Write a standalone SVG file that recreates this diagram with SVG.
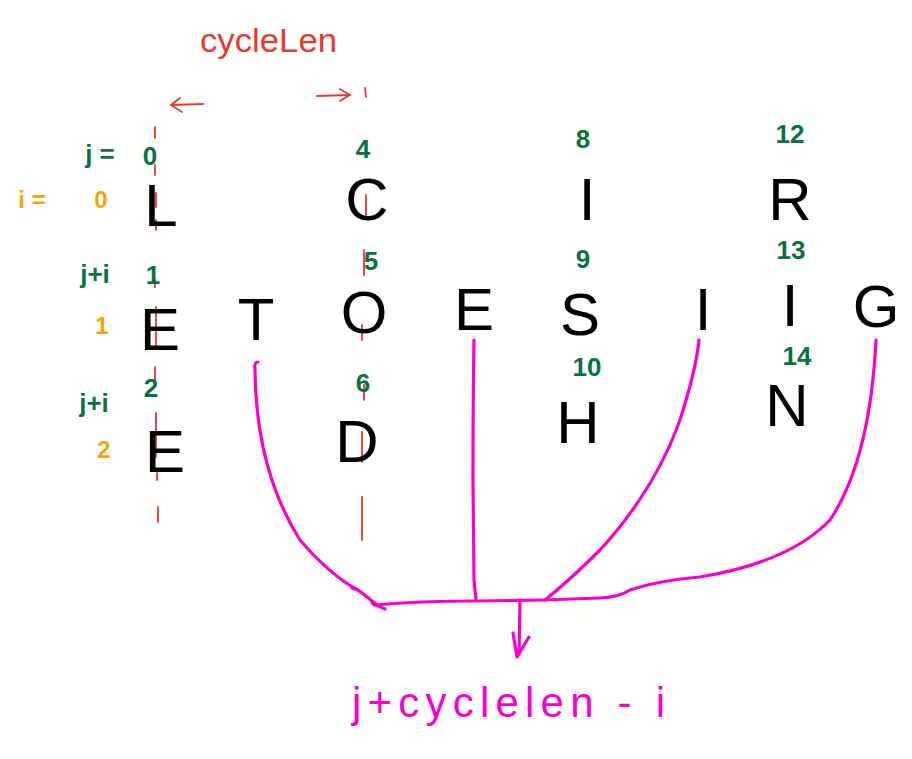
<svg xmlns="http://www.w3.org/2000/svg" width="912" height="759" viewBox="0 0 912 759">
<style>
.big{font-family:"Liberation Sans",Arial,sans-serif;font-size:60px;fill:#000;text-anchor:middle}
.gn{font-family:"Liberation Sans",Arial,sans-serif;font-size:26px;font-weight:bold;fill:#08733c;text-anchor:middle}
.or{font-family:"Liberation Sans",Arial,sans-serif;font-size:24px;font-weight:bold;fill:#f6a20a;text-anchor:middle}
.red{stroke:#e8392a;stroke-width:1.8;fill:none;stroke-linecap:round}
.pk{stroke:#f700d0;stroke-width:3.2;fill:none;stroke-linecap:round;stroke-linejoin:round}
.pkt{font-family:"Liberation Sans",Arial,sans-serif;font-size:42px;fill:#f700d0}
.rt{font-family:"Liberation Sans",Arial,sans-serif;font-size:34px;fill:#e8392a}
</style>
<rect width="912" height="759" fill="#fff"/>
<g id="guides">
<text class="rt" x="200" y="52" textLength="137" lengthAdjust="spacingAndGlyphs">cycleLen</text>
<path class="red" d="M203 104 L172 105 M180 98 L171 105 L182 112"/>
<path class="red" d="M317 96 L349 95 M340 89 L350 95 L340 101"/>
<path class="red" d="M365 88 L366 97"/>
<path class="red" d="M155 127 V138 M155 165 V175 M156 193 V207 M156 220 V230 M155 280 V287 M156 307 V348 M155 367 V385 M156 413 V457 M157 473 V480 M158 507 V522"/>
<path class="red" d="M366 195 V215 M364 250 V275 M362 325 V340 M364 385 V400 M362 432 V462 M362 497 V540"/>
</g>
<g id="labels">
<text class="gn" x="100" y="163" font-size="38" font-weight="normal">j =</text>
<text class="or" x="32" y="208" font-weight="normal">i =</text>
<text class="gn" x="95" y="283" font-size="34" font-weight="normal">j+i</text>
<text class="gn" x="94" y="412" font-size="32" font-weight="normal">j+i</text>
<text class="or" x="101" y="208">0</text>
<text class="or" x="102" y="334">1</text>
<text class="or" x="104" y="458">2</text>
</g>
<g id="col0">
<text class="gn" x="150" y="165">0</text>
<text class="big" x="161" y="226">L</text>
<text class="gn" x="153" y="284">1</text>
<text class="big" x="160" y="350">E</text>
<text class="gn" x="151" y="397">2</text>
<text class="big" x="165" y="472">E</text>
</g>
<g id="col1"><text class="big" x="256" y="340">T</text></g>
<g id="col2">
<text class="gn" x="363" y="158">4</text>
<text class="big" x="367" y="220">C</text>
<text class="gn" x="371" y="270">5</text>
<text class="big" x="364" y="333">O</text>
<text class="gn" x="363" y="392">6</text>
<text class="big" x="357" y="462">D</text>
</g>
<g id="col3"><text class="big" x="474" y="330">E</text></g>
<g id="col4">
<text class="gn" x="583" y="148">8</text>
<text class="big" x="587" y="220">I</text>
<text class="gn" x="583" y="268">9</text>
<text class="big" x="580" y="335">S</text>
<text class="gn" x="587" y="376">10</text>
<text class="big" x="578" y="443">H</text>
</g>
<g id="col5"><text class="big" x="703" y="330">I</text></g>
<g id="col6">
<text class="gn" x="790" y="143">12</text>
<text class="big" x="790" y="220">R</text>
<text class="gn" x="791" y="259">13</text>
<text class="big" x="790" y="326">I</text>
<text class="gn" x="797" y="365">14</text>
<text class="big" x="787" y="426">N</text>
</g>
<g id="col7"><text class="big" x="876" y="327">G</text></g>
<g id="connectors">
<path class="pk" d="M258 362 Q254 362 255 370 Q256 470 300 540 Q330 575 358 590 L376 604"/>
<path class="pk" d="M352 588 L358 590 M372 603 L385 609"/>
<path class="pk" d="M374 605 Q420 601 476 601 L545 600 Q575 599 600 598 Q620 597 630 590 Q660 580 700 577 Q790 562 830 520 Q870 460 876 340"/>
<path class="pk" d="M474 340 Q473 400 473 480 L474 580 L476 600"/>
<path class="pk" d="M699 340 Q696 370 680 420 Q655 490 600 550 Q570 580 545 600"/>
<path class="pk" d="M520 600 L519 655 M513 633 L517 657 L529 637"/>
<text class="pkt" x="352" y="717" textLength="313" lengthAdjust="spacing">j+cyclelen - i</text>
</g>
</svg>
